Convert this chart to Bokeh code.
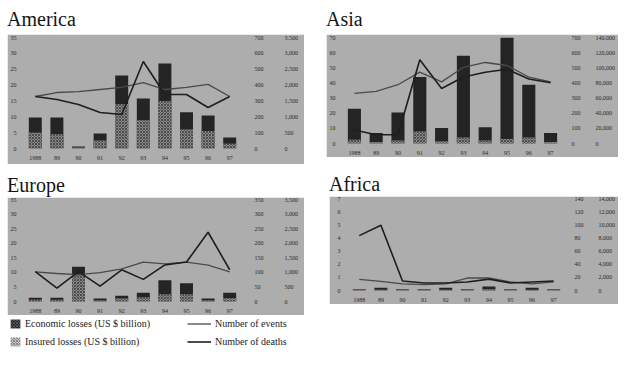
from bokeh.plotting import figure
from bokeh.models import (FactorRange, Range1d, LinearAxis, Div, Spacer, Legend, LegendItem,
                          ColumnDataSource, FixedTicker, NumeralTickFormatter)
from bokeh.layouts import row, column
from bokeh.embed import file_html
from bokeh.resources import INLINE

# ---------------- data ----------------
years = ["1988", "89", "90", "91", "92", "93", "94", "95", "96", "97"]

america_econ = [9.8, 9.8, 0.6, 4.7, 23.0, 15.8, 26.8, 11.4, 10.4, 3.5]
america_insured = [5.0, 4.5, 0.3, 2.5, 14.0, 9.0, 15.0, 6.0, 5.5, 1.5]
america_events = [328, 353, 359, 372, 385, 416, 372, 385, 404, 328]
america_deaths = [1640, 1545, 1387, 1135, 1072, 2743, 1703, 1703, 1293, 1640]

asia_econ = [22.9, 7.0, 20.4, 43.9, 10.2, 57.9, 10.8, 100.0, 38.8, 7.0]
asia_insured = [2.5, 1.0, 2.0, 8.0, 1.5, 4.0, 2.0, 3.0, 4.0, 1.0]
asia_events = [331, 344, 388, 471, 407, 503, 535, 515, 439, 407]
asia_deaths = [17800, 11500, 11500, 110700, 72600, 87800, 94200, 98000, 85300, 80200]

europe_econ = [1.3, 1.3, 11.9, 1.0, 2.0, 3.0, 7.3, 6.3, 1.0, 3.0]
europe_insured = [0.6, 0.6, 9.0, 0.4, 1.0, 1.5, 2.5, 2.5, 0.4, 1.2]
europe_events = [102, 96, 92, 99, 112, 135, 129, 135, 125, 102]
europe_deaths = [1023, 462, 1023, 528, 1089, 759, 1254, 1353, 2376, 1089]

africa_econ = [0.1, 0.2, 0.1, 0.1, 0.2, 0.1, 0.3, 0.1, 0.2, 0.1]
africa_insured = [0.05, 0.05, 0.05, 0.05, 0.05, 0.05, 0.1, 0.05, 0.05, 0.05]
africa_events = [17, 14, 10, 9, 10, 19, 19, 13, 10, 13]
africa_deaths = [8350, 9940, 1440, 1150, 1150, 1300, 1730, 1150, 1300, 1440]

america_econ_ticks = [0, 5, 10, 15, 20, 25, 30, 35]
america_event_ticks = [0, 100, 200, 300, 400, 500, 600, 700]
america_death_ticks = [0, 500, 1000, 1500, 2000, 2500, 3000, 3500]

asia_econ_ticks = [0, 10, 20, 30, 40, 50, 60, 70]
asia_event_ticks = [0, 100, 200, 300, 400, 500, 600, 700]
asia_death_ticks = [0, 20000, 40000, 60000, 80000, 100000, 120000, 140000]

europe_econ_ticks = [0, 5, 10, 15, 20, 25, 30, 35]
europe_event_ticks = [0, 50, 100, 150, 200, 250, 300, 350]
europe_death_ticks = [0, 500, 1000, 1500, 2000, 2500, 3000, 3500]

africa_econ_ticks = [0, 1, 2, 3, 4, 5, 6, 7]
africa_event_ticks = [0, 20, 40, 60, 80, 100, 120, 140]
africa_death_ticks = [0, 2000, 4000, 6000, 8000, 10000, 12000, 14000]

legend_labels = ["Economic losses (US $ billion)", "Insured losses (US $ billion)",
                 "Number of events", "Number of deaths"]

# ---------------- style ----------------
BG = "#adadad"
ECON = "#242424"
INS = "#8a8a8a"
EV_COL = "#4a4a4a"
DE_COL = "#1e1e1e"
TICK_FONT = "Liberation Serif"
SERIF = "'Liberation Serif', 'Times New Roman', serif"


def style_axis(ax, standoff=2):
    ax.axis_line_color = None
    ax.major_tick_line_color = None
    ax.minor_tick_line_color = None
    ax.major_label_text_font = TICK_FONT
    ax.major_label_text_font_size = "6px"
    ax.major_label_text_color = "#2a2a2a"
    ax.major_label_standoff = standoff


def panel(width, height, econ, insured, events, deaths,
          econ_ticks, ev_ticks, de_ticks, left, right, top, bottom, ev_off, de_off):
    p = figure(width=width, height=height,
               x_range=FactorRange(*years),
               y_range=Range1d(0, econ_ticks[-1]),
               toolbar_location=None, output_backend="svg",
               background_fill_color=BG, border_fill_color=BG,
               outline_line_color=BG, outline_line_width=2,
               min_border_left=left, min_border_right=right,
               min_border_top=top, min_border_bottom=bottom)
    p.extra_y_ranges = {"ev": Range1d(0, ev_ticks[-1]), "de": Range1d(0, de_ticks[-1])}
    src = ColumnDataSource(dict(year=years, econ=econ, insured=insured,
                                events=events, deaths=deaths))
    p.vbar(x="year", top="econ", width=0.6, source=src,
           fill_color=ECON, line_color=None)
    p.vbar(x="year", top="insured", width=0.6, source=src,
           fill_color=INS, line_color=None,
           hatch_pattern="x", hatch_color="#3c3c3c", hatch_scale=3, hatch_weight=0.8)
    p.line(x="year", y="events", y_range_name="ev", source=src,
           line_color=EV_COL, line_width=1.3)
    p.line(x="year", y="deaths", y_range_name="de", source=src,
           line_color=DE_COL, line_width=1.6)
    p.grid.visible = False
    p.yaxis.ticker = FixedTicker(ticks=econ_ticks)
    ax_ev = LinearAxis(y_range_name="ev", ticker=FixedTicker(ticks=ev_ticks))
    ax_de = LinearAxis(y_range_name="de", ticker=FixedTicker(ticks=de_ticks),
                       formatter=NumeralTickFormatter(format="0,0"))
    p.add_layout(ax_ev, "right")
    p.add_layout(ax_de, "right")
    style_axis(p.xaxis[0], 1)
    style_axis(p.yaxis[0], 2)
    style_axis(ax_ev, ev_off)
    style_axis(ax_de, de_off)
    return p


def title_div(text, width, height, pad):
    return Div(text=text, width=width, height=height, margin=(0, 0, 0, 0),
               styles={"font-family": SERIF, "font-size": "20px", "color": "#151515",
                       "line-height": "22px", "padding-top": f"{pad}px"})


p_am = panel(297, 130, america_econ, america_insured, america_events, america_deaths,
             america_econ_ticks, america_event_ticks, america_death_ticks, 14, 64, 3, 16, 8, 12)
p_as = panel(292, 123, asia_econ, asia_insured, asia_events, asia_deaths,
             asia_econ_ticks, asia_event_ticks, asia_death_ticks, 15, 53, 3, 8, 4, 6)
p_eu = panel(297, 118, europe_econ, europe_insured, europe_events, europe_deaths,
             europe_econ_ticks, europe_event_ticks, europe_death_ticks, 14, 64, 2, 10, 8, 12)
p_af = panel(289, 108, africa_econ, africa_insured, africa_events, africa_deaths,
             africa_econ_ticks, africa_event_ticks, africa_death_ticks, 19, 50, 2, 10, 4, 6)

# ---------------- legend ----------------
lg = figure(width=611, height=38, x_range=Range1d(0, 1), y_range=Range1d(0, 1),
            toolbar_location=None, output_backend="svg",
            background_fill_color="white", border_fill_color="white",
            outline_line_color=None, min_border=0)
lg.axis.visible = False
lg.grid.visible = False
# renderers kept outside the visible range: they only feed the legend
r1 = lg.vbar(x=[5], top=[1], width=0.1, fill_color=ECON, line_color=None,
             hatch_pattern="x", hatch_color="#777777", hatch_scale=3, hatch_weight=0.6)
r2 = lg.vbar(x=[5], top=[1], width=0.1, fill_color="#c8c8c8", line_color=None,
             hatch_pattern="x", hatch_color="#555555", hatch_scale=3, hatch_weight=0.6)
r3 = lg.line(x=[5, 6], y=[5, 6], line_color=EV_COL, line_width=1.3)
r4 = lg.line(x=[5, 6], y=[5, 6], line_color=DE_COL, line_width=1.6)

common = dict(label_text_font="Liberation Serif", label_text_font_size="10px",
              label_text_color="#222222", label_height=14, label_standoff=4,
              spacing=4, padding=0, margin=0, border_line_color=None,
              background_fill_alpha=0, orientation="vertical")
leg1 = Legend(items=[LegendItem(label=legend_labels[0], renderers=[r1]),
                     LegendItem(label=legend_labels[1], renderers=[r2])],
              location=(2, 5), glyph_width=12, glyph_height=11, **common)
leg2 = Legend(items=[LegendItem(label=legend_labels[2], renderers=[r3]),
                     LegendItem(label=legend_labels[3], renderers=[r4])],
              location=(180, 5), glyph_width=24, glyph_height=11, **common)
lg.add_layout(leg1, "center")
lg.add_layout(leg2, "center")

# ---------------- layout ----------------
top_row = row(column(title_div("America", 297, 27, 1), p_am),
              Spacer(width=22, height=10),
              column(title_div("Asia", 292, 27, 1), p_as))
bottom_row = row(column(title_div("Europe", 297, 33, 10), p_eu),
                 Spacer(width=25, height=10),
                 column(title_div("Africa", 289, 32, 9), p_af))
layout = row(Spacer(width=7, height=10),
             column(Spacer(width=10, height=7), top_row, bottom_row, lg))

open("out.html", "w").write(file_html(layout, INLINE))
